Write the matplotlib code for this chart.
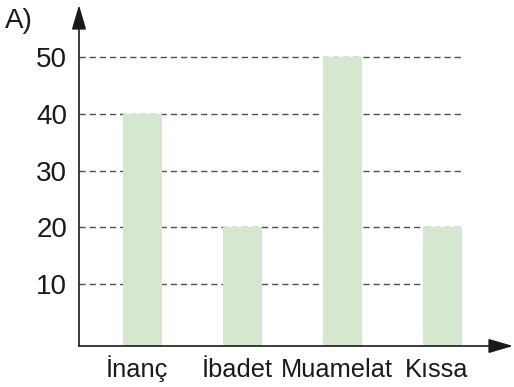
import matplotlib
matplotlib.use("Agg")
import matplotlib.pyplot as plt
import numpy as np

plt.rcParams['font.family'] = ['Liberation Sans', 'DejaVu Sans']

categories = ["İnanç", "İbadet", "Muamelat", "Kıssa"]
values = [40, 20, 50, 20]
y_ticks = [10, 20, 30, 40, 50]
panel_label = "A)"

bar_color = "#d5e8cf"
grid_color = "#505050"
axis_color = "#1a1a1a"
text_color = "#1a1a1a"
fs = 20
fs_cat = 18.3

W, H, DPI = 514, 387, 100
fig = plt.figure(figsize=(W / DPI, H / DPI), dpi=DPI)

# axes box in pixel terms: y-axis at x=79, x-axis at y=346, top arrow tip at y=5
left_px, right_px, top_px, bottom_px = 79, 513, 5, 346
ax = fig.add_axes([left_px / W, (H - bottom_px) / H,
                   (right_px - left_px) / W, (bottom_px - top_px) / H])

x = np.arange(len(categories))
bar_w = 0.39
ymin, ymax = -0.85, 59.1
ax.set_xlim(-0.63, 3.71)
ax.set_ylim(ymin, ymax)

# dashed reference lines behind the bars
ax.hlines(y_ticks, -0.63, x[-1] + bar_w / 2, colors=grid_color,
          linestyles=(0, (4.5, 2.8)), linewidth=1.0, zorder=1)

# bars rise from the x-axis line
ax.bar(x, np.array(values) - ymin, bottom=ymin, width=bar_w,
       color=bar_color, zorder=2)

for s in ax.spines.values():
    s.set_visible(False)
ax.set_xticks([])
ax.set_yticks([])

# axis arrows
arrow_kw = dict(arrowstyle="-|>,head_length=0.75,head_width=0.22",
                color=axis_color, lw=1.2, mutation_scale=20,
                shrinkA=0, shrinkB=0)
ax.annotate("", xy=(0, 1), xytext=(0, 0), xycoords="axes fraction",
            arrowprops=arrow_kw, annotation_clip=False)
ax.annotate("", xy=(1, 0), xytext=(0, 0), xycoords="axes fraction",
            arrowprops=arrow_kw, annotation_clip=False)

# tick labels
for t in y_ticks:
    ax.text(-0.75, t, str(t), ha="right", va="center_baseline", fontsize=fs,
            color=text_color)
for xi, c in zip(x, categories):
    ax.text(xi - 0.05, ymin - 5.45, c, ha="center", va="baseline",
            fontsize=fs_cat, color=text_color)

fig.text(5 / W, 1 - 28.5 / H, panel_label, ha="left", va="baseline",
         fontsize=fs, color=text_color)

fig.savefig("out.png", dpi=DPI)
